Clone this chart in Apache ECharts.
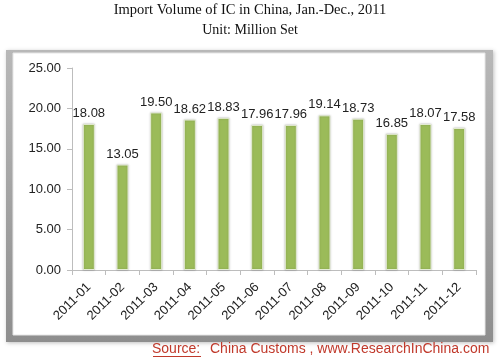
<!DOCTYPE html>
<html><head><meta charset="utf-8">
<script src="https://cdn.jsdelivr.net/npm/echarts@6/dist/echarts.min.js"></script>
<style>html,body{margin:0;padding:0;background:#fff}#c{width:500px;height:361px}</style>
</head><body><div id="c"></div>
<script>
const categories = ['2011-01','2011-02','2011-03','2011-04','2011-05','2011-06','2011-07','2011-08','2011-09','2011-10','2011-11','2011-12'];
const values = [18.08,13.05,19.50,18.62,18.83,17.96,17.96,19.14,18.73,16.85,18.07,17.58];
const yTicks = [0,5,10,15,20,25];
const titleText = 'Import Volume of IC in China, Jan.-Dec., 2011';
const subText = 'Unit: Million Set';

const chart = echarts.init(document.getElementById('c'), null, {renderer:'canvas'});
chart.setOption({
  animation:false,
  backgroundColor:'#fff',
  graphic:[
    {type:'rect', z:-10, shape:{x:6,y:50,width:487,height:292},
     style:{fill:new echarts.graphic.LinearGradient(0,0,0,1,[{offset:0,color:'#b8b8b8'},{offset:1,color:'#8e8e8e'}]),
       shadowBlur:4, shadowColor:'rgba(0,0,0,0.25)', shadowOffsetX:1, shadowOffsetY:1}},
    {type:'rect', z:-9, shape:{x:13,y:53,width:472,height:282},
     style:{fill:'#fff', stroke:'#e6e6e6', lineWidth:1}},
    {type:'text', left:'center', top:3, style:{text:titleText, font:'14.5px "Liberation Serif", serif', fill:'#111'}},
    {type:'text', left:'center', top:23, style:{text:subText, font:'14px "Liberation Serif", serif', fill:'#111'}},
    {type:'text', left:152, top:342, style:{text:'Source:', font:'14px "Liberation Sans", sans-serif', fill:'#c0392b'}},
    {type:'rect', shape:{x:153,y:356,width:48,height:1}, style:{fill:'#c0392b'}},
    {type:'text', left:210, top:342, style:{text:'China Customs , www.ResearchInChina.com', font:'14px "Liberation Sans", sans-serif', fill:'#c0392b'}}
  ],
  grid:{left:72, right:24, top:68, bottom:91, containLabel:false},
  xAxis:{type:'category', data:categories,
    axisLine:{lineStyle:{color:'#bdbdbd'}},
    axisTick:{show:true, alignWithLabel:false, length:5, lineStyle:{color:'#bdbdbd'}},
    axisLabel:{rotate:45, interval:0, margin:15, color:'#222', fontSize:13, fontFamily:'"Liberation Sans", sans-serif'}},
  yAxis:{type:'value', min:0, max:25, interval:5,
    splitLine:{show:false},
    axisLine:{show:true, lineStyle:{color:'#bdbdbd'}},
    axisTick:{show:true, length:5, lineStyle:{color:'#bdbdbd'}},
    axisLabel:{margin:11, color:'#222', fontSize:13, fontFamily:'"Liberation Sans", sans-serif',
      formatter:v=>v.toFixed(2)}},
  series:[{type:'bar', data:values, barWidth:12,
    itemStyle:{color:'#9bbb59', borderColor:'#e4ecd4', borderWidth:1, shadowBlur:2, shadowColor:'rgba(0,0,0,0.2)'},
    label:{show:true, position:'top', distance:4, color:'#222', fontSize:13, fontFamily:'"Liberation Sans", sans-serif',
      formatter:p=>p.value.toFixed(2)}}]
});
</script></body></html>
